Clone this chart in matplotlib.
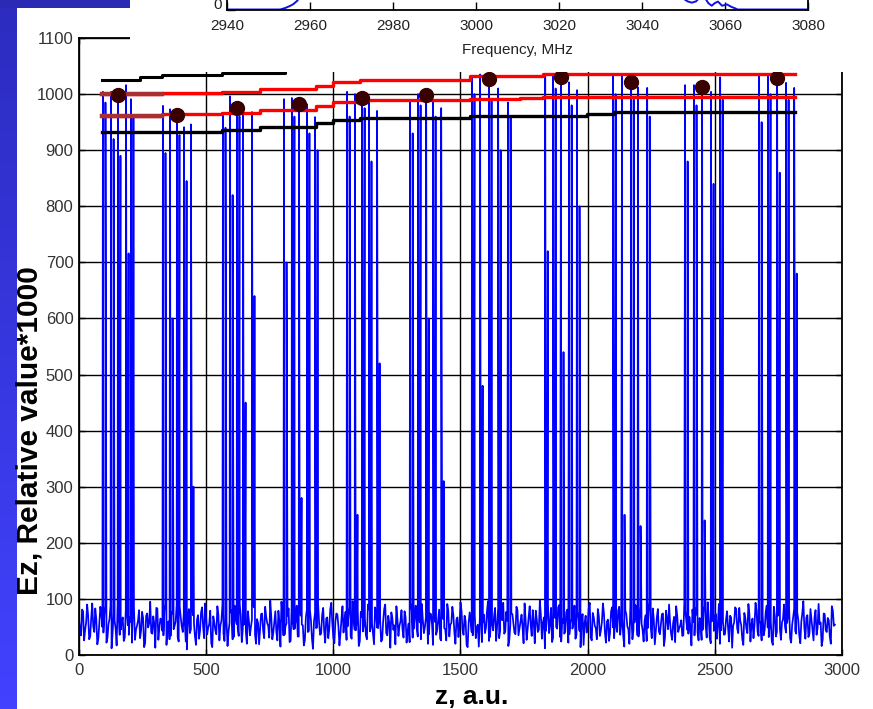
import numpy as np
import matplotlib
matplotlib.use('Agg')
import matplotlib.pyplot as plt
from matplotlib.patches import Rectangle

# Ez along z: baseline noise, two interleaved sample sets (every 8 units, offset by 4)
ez_noise_a = [
    62, 35, 78, 44, 90, 28, 66, 51, 83, 19, 57, 72,
    40, 88, 31, 64, 12, 75, 47, 93, 36, 59, 25, 81,
    53, 68, 22, 86, 45, 61, 30, 77, 14, 70, 49, 95,
    38, 56, 84, 27, 65, 43, 79, 18, 60, 34, 74, 52,
    89, 24, 67, 41, 58, 10, 82, 46, 71, 33, 63, 29,
    76, 50, 92, 37, 55, 21, 69, 44, 87, 26, 61, 39,
    73, 16, 58, 80, 32, 66, 48, 91, 23, 54, 42, 78,
    35, 63, 85, 20, 57, 45, 74, 30, 68, 52, 97, 28,
    60, 41, 79, 15, 71, 36, 56, 83, 25, 64, 47, 88,
    33, 70, 53, 26, 81, 43, 62, 11, 75, 49, 58, 38,
    84, 22, 67, 46, 93, 31, 59, 72, 17, 65, 40, 77,
    51, 86, 29, 61, 44, 80, 24, 68, 55, 35, 90, 42,
    57, 19, 74, 48, 63, 27, 82, 39, 70, 13, 66, 53,
    87, 34, 60, 45, 78, 22, 56, 94, 31, 69, 47, 75,
    28, 62, 50, 85, 37, 73, 18, 59, 43, 81, 26, 64,
    46, 91, 33, 57, 71, 20, 67, 52, 79, 36, 61, 14,
    76, 41, 88, 30, 54, 65, 23, 72, 48, 96, 32, 58,
    69, 25, 83, 44, 62, 38, 77, 16, 55, 73, 40, 86,
    35, 60, 49, 92, 27, 68, 53, 80, 21, 63, 45, 71,
    58, 12, 75, 39, 84, 31, 66, 47, 89, 24, 57, 42,
    81, 37, 64, 55, 29, 78, 43, 61, 18, 70, 52, 93,
    26, 67, 48, 82, 34, 59, 74, 22, 63, 40, 85, 30,
    54, 79, 36, 65, 15, 72, 46, 90, 28, 58, 69, 33,
    87, 44, 61, 25, 76, 50, 83, 19, 67, 42, 56, 74,
    31, 64, 90, 38, 57, 23, 71, 48, 62, 35, 80, 45,
    68, 17, 59, 84, 41, 66, 27, 77, 52, 94, 30, 60,
    43, 73, 55, 20, 86, 36, 63, 49, 70, 13, 58, 82,
    39, 61, 28, 75, 47, 91, 24, 65, 53, 79, 34, 56,
    72, 45, 88, 32, 60, 18, 69, 41, 83, 27, 64, 50,
    57, 85, 22, 67, 43, 76, 35, 59, 96, 29, 71, 38,
    63, 26, 80, 48, 55, 16, 74, 44, 66, 33, 87, 52,
]
ez_noise_b = [
    47, 81, 26, 58, 70, 33, 92, 41, 64, 29, 86, 50,
    73, 22, 55, 89, 38, 61, 17, 78, 45, 67, 31, 84,
    36, 59, 94, 27, 52, 80, 43, 66, 21, 74, 57, 40,
    69, 13, 83, 48, 62, 35, 91, 54, 28, 77, 46, 60,
    32, 87, 51, 75, 24, 63, 39, 96, 56, 18, 71, 44,
    85, 30, 66, 49, 79, 14, 58, 37, 72, 53, 90, 25,
    62, 42, 76, 28, 88, 55, 34, 69, 47, 82, 20, 61,
    50, 93, 37, 64, 19, 73, 44, 86, 57, 31, 68, 40,
    78, 26, 59, 95, 35, 52, 70, 23, 84, 46, 63, 33,
    89, 54, 17, 67, 41, 80, 29, 60, 48, 92, 36, 71,
    43, 65, 30, 82, 56, 21, 74, 51, 38, 87, 62, 27,
    70, 34, 96, 45, 59, 16, 77, 42, 66, 28, 81, 53,
    37, 85, 49, 72, 24, 61, 90, 35, 57, 76, 45, 19,
    64, 52, 80, 31, 68, 43, 23, 79, 47, 88, 33, 58,
    91, 39, 67, 20, 74, 55, 83, 36, 62, 29, 71, 48,
    26, 79, 54, 86, 40, 63, 32, 94, 45, 70, 18, 57,
    60, 35, 73, 49, 15, 82, 58, 39, 77, 25, 66, 44,
    84, 51, 30, 69, 93, 42, 61, 27, 74, 56, 37, 80,
    48, 72, 21, 63, 46, 87, 34, 58, 79, 41, 97, 29,
    67, 43, 90, 55, 23, 71, 50, 85, 32, 64, 38, 76,
    22, 59, 47, 88, 36, 65, 14, 73, 57, 40, 83, 31,
    75, 52, 28, 69, 44, 92, 39, 60, 25, 78, 49, 65,
    41, 86, 57, 33, 80, 51, 20, 67, 45, 89, 35, 62,
    56, 24, 71, 48, 95, 30, 64, 43, 82, 37, 73, 16,
    79, 46, 58, 27, 68, 87, 41, 53, 34, 92, 60, 38,
    50, 81, 35, 72, 26, 57, 45, 88, 31, 65, 21, 76,
    63, 29, 91, 44, 59, 37, 78, 24, 67, 52, 85, 47,
    84, 53, 18, 66, 39, 72, 55, 30, 93, 42, 61, 26,
    35, 77, 49, 60, 24, 86, 33, 70, 46, 58, 90, 40,
    71, 30, 54, 83, 38, 63, 21, 75, 48, 67, 32, 82,
    45, 68, 36, 91, 58, 27, 73, 41, 62, 20, 79, 54,
]
noise_step = 8

# field peaks in each cell: position, peak value, value on the falling edge
spike_z = [
    [94, 126, 153, 185, 204],
    [330, 358, 385, 413, 440],
    [566, 594, 621, 645, 680],
    [806, 837, 865, 896, 928],
    [1054, 1085, 1113, 1140, 1172],
    [1302, 1333, 1365, 1392, 1424],
    [1545, 1577, 1612, 1648, 1687],
    [1833, 1864, 1895, 1927, 1958],
    [2100, 2135, 2171, 2198, 2234],
    [2383, 2418, 2450, 2485, 2521],
    [2674, 2709, 2745, 2780, 2812],
]
spike_top = [
    [1004, 1004, 998, 1016, 991],
    [979, 973, 962, 941, 946],
    [962, 996, 975, 971, 968],
    [991, 993, 982, 982, 959],
    [1004, 1000, 993, 985, 970],
    [985, 1000, 998, 990, 975],
    [1030, 1035, 1027, 1010, 985],
    [1036, 1036, 1030, 1021, 1007],
    [1034, 1034, 1021, 1012, 1011],
    [1016, 1016, 1012, 1004, 1030],
    [1036, 1036, 1028, 1020, 1011],
]
spike_mid = [
    [985, 920, 890, 716, 960],
    [895, 600, 927, 845, 300],
    [940, 820, 960, 450, 640],
    [700, 960, 280, 930, 900],
    [960, 250, 975, 880, 520],
    [930, 980, 600, 960, 310],
    [1000, 480, 990, 900, 960],
    [720, 1010, 540, 980, 800],
    [1000, 250, 990, 230, 960],
    [880, 980, 240, 840, 990],
    [950, 1000, 860, 990, 680],
]
spike_width = 10

# cell maxima
dot_z = [153, 385, 621, 865, 1113, 1365, 1612, 1895, 2171, 2450, 2745]
dot_v = [998, 962, 975, 982, 993, 998, 1027, 1030, 1021, 1012, 1028]

# envelope / tolerance levels (step lines)
upper_black_z = [90, 240, 326, 562, 810, 999, 1538, 1825, 2816]
upper_black_v = [1026, 1030, 1034, 1037, 1046, 1055, 1062, 1068, 1068]
upper_red_z = [90, 326, 562, 712, 932, 999, 1105, 1538, 1825, 2816]
upper_red_v = [1000, 1002, 1004, 1009, 1015, 1021, 1026, 1032, 1036, 1036]
lower_red_z = [90, 326, 562, 712, 932, 999, 1105, 1538, 1734, 1825, 2816]
lower_red_v = [961, 964, 966, 971, 978, 986, 989, 991, 993, 995, 995]
lower_black_z = [90, 562, 712, 932, 999, 1105, 1538, 1998, 2104, 2816]
lower_black_v = [932, 936, 941, 948, 954, 957, 961, 964, 968, 968]

# frequency response (inset)
inset_f = [2940, 2952.8, 2954, 2955.2, 2956, 2957, 2958, 2960, 2980, 3000,
           3020, 3040, 3048, 3050, 3051, 3052, 3053, 3054, 3055, 3056,
           3056.8, 3057.5, 3058.3, 3059.3, 3060.5, 3061.5, 3062.5, 3063, 3080]
inset_a = [0, 0, 0.008, 0.02, 0.03, 0.05, 0.12, 0.3, 0.8, 0.9,
           0.85, 0.7, 0.2, 0.06, 0.045, 0.038, 0.045, 0.07, 0.07, 0.035,
           0.021, 0.035, 0.044, 0.021, 0.028, 0.015, 0.006, 0, 0]

# assemble the Ez trace
trace_z = list(np.arange(len(ez_noise_a)) * noise_step)
trace_z += list(np.arange(len(ez_noise_b)) * noise_step + noise_step // 2)
trace_v = list(ez_noise_a) + list(ez_noise_b)
for zs, tops, mids in zip(spike_z, spike_top, spike_mid):
    for zc, top, mid in zip(zs, tops, mids):
        trace_z += [zc, zc + spike_width]
        trace_v += [top, mid]
trace_z = np.array(trace_z, dtype=float)
trace_v = np.array(trace_v, dtype=float)
order = np.argsort(trace_z, kind='stable')
trace_z, trace_v = trace_z[order], trace_v[order]

W, H = 873, 709
fig = plt.figure(figsize=(W / 100, H / 100), dpi=100)
fig.patch.set_facecolor('white')

narrow = ['Liberation Sans Narrow', 'Liberation Sans', 'DejaVu Sans']
arial = ['Liberation Sans', 'DejaVu Sans']

# main axes
ax = fig.add_axes([79 / W, 1 - 655 / H, (842 - 79) / W, (655 - 38) / H])
ax.set_zorder(0)
ax.plot(trace_z, trace_v, color='#0000ff', lw=1.25, zorder=2)

ax.plot(upper_black_z, upper_black_v, drawstyle='steps-post', color='black', lw=2.2, zorder=3)
ax.plot(lower_black_z, lower_black_v, drawstyle='steps-post', color='black', lw=2.4, zorder=3)
ax.plot(upper_red_z, upper_red_v, drawstyle='steps-post', color='#ff0000', lw=2.4, zorder=3)
ax.plot(lower_red_z, lower_red_v, drawstyle='steps-post', color='#ff0000', lw=2.4, zorder=3)
# first cell drawn darker on both red levels
ax.plot(upper_red_z[:2], upper_red_v[:1] * 2, color='#a83030', lw=3.2, zorder=3)
ax.plot(lower_red_z[:2], lower_red_v[:1] * 2, color='#a83030', lw=3.2, zorder=3)

ax.plot(dot_z, dot_v, 'o', color='#3a0000', ms=10, zorder=4)

ax.set_xlim(0, 3000)
ax.set_ylim(0, 1100)
ax.set_xticks(np.arange(0, 3001, 500))
ax.set_yticks(np.arange(0, 1101, 100))
ax.grid(True, color='black', lw=1.0, ls='-')
ax.set_axisbelow(True)
for s in ax.spines.values():
    s.set_linewidth(1.3)
    s.set_color('black')
ax.tick_params(direction='in', length=4, width=1, top=True, right=True,
               colors='black', labelcolor='#333333', labelsize=12)
ax.tick_params(axis='x', pad=6)
ax.tick_params(axis='y', pad=4)
for lab in ax.get_xticklabels() + ax.get_yticklabels():
    lab.set_family(narrow)

fig.text(30 / W, 1 - 431 / H, 'Ez, Relative value*1000', rotation=90,
         ha='center', va='center', fontsize=21.5, fontweight='bold',
         family=arial, color='black')
fig.text(472 / W, 1 - 697 / H, 'z, a.u.', ha='center', va='center',
         fontsize=19, fontweight='bold', family=arial, color='black')

# white backing of the pasted frequency plot
fig.add_artist(Rectangle((130 / W, 1 - 72 / H), 1 - 130 / W, 72 / H,
                         transform=fig.transFigure, facecolor='white',
                         edgecolor='none', zorder=1))

# inset: frequency response
axi = fig.add_axes([227 / W, 1 - 9.5 / H, (808 - 227) / W, 180 / H])
axi.set_zorder(2)
axi.patch.set_visible(False)
axi.plot(inset_f, inset_a, color='#1010e0', lw=1.4)
axi.set_xlim(2940, 3080)
axi.set_ylim(0, 1)
axi.set_xticks(np.arange(2940, 3081, 20))
axi.set_yticks([0])
axi.set_yticklabels([''])
axi.annotate('0', xy=(0, 0), xycoords='axes fraction', xytext=(-4, 3),
             textcoords='offset points', ha='right', va='center',
             fontsize=11, family=arial, color='#222222')
axi.spines['top'].set_visible(False)
for s in ['left', 'right', 'bottom']:
    axi.spines[s].set_color('black')
    axi.spines[s].set_linewidth(1.3)
axi.tick_params(direction='in', length=6, width=1, colors='black',
                labelcolor='#222222', labelsize=11)
axi.tick_params(axis='x', pad=7)
for lab in axi.get_xticklabels():
    lab.set_family(arial)
axi.set_xlabel('Frequency, MHz', fontsize=11, family=arial, color='#222222', labelpad=7)

# slide decoration: blue bars on the left and top
grad = np.linspace(0, 1, 256).reshape(-1, 1)
cmap = matplotlib.colors.LinearSegmentedColormap.from_list('bar', ['#2c2cc0', '#4242ff'])
axb = fig.add_axes([0, 0, 17 / W, 1])
axb.imshow(grad, aspect='auto', cmap=cmap, extent=[0, 1, 0, 1], origin='upper')
axb.set_axis_off()
axt = fig.add_axes([0, 1 - 8 / H, 130 / W, 8 / H])
axt.add_patch(Rectangle((0, 0), 1, 1, facecolor='#2a2ab4', edgecolor='none'))
axt.set_axis_off()

fig.savefig('out.png', dpi=100, facecolor='white')
